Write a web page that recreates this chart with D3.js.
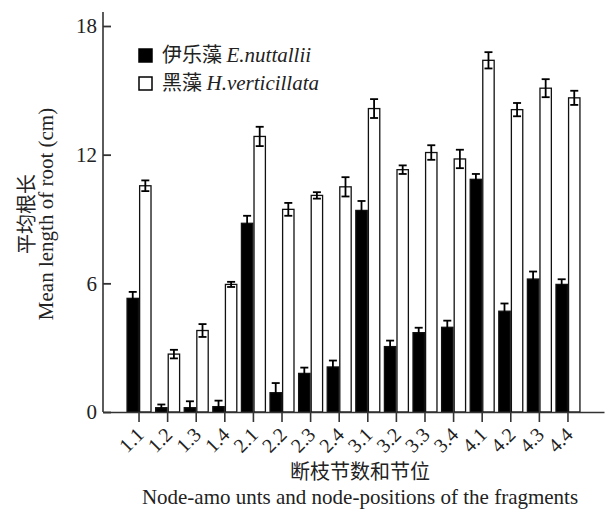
<!DOCTYPE html>
<html lang="zh">
<head>
<meta charset="UTF-8">
<title>Mean length of root</title>
<script src="https://d3js.org/d3.v7.min.js"></script>
<style>
  html, body { margin: 0; padding: 0; background: #fff; }
  svg { display: block; }
</style>
</head>
<body>
<svg id="svg" width="605" height="511"></svg>
<script>
// node-amounts . node-position
const categories = ["1.1","1.2","1.3","1.4","2.1","2.2","2.3","2.4","3.1","3.2","3.3","3.4","4.1","4.2","4.3","4.4"];
// 伊乐藻 E.nuttallii (black)
const nuttMean = [5.3,0.2,0.2,0.25,8.8,0.9,1.8,2.1,9.4,3.05,3.7,3.95,10.85,4.7,6.2,5.95];
const nuttErr  = [0.3,0.15,0.3,0.28,0.35,0.45,0.27,0.3,0.44,0.28,0.23,0.31,0.25,0.36,0.35,0.24];
// 黑藻 H.verticillata (white)
const vertMean = [10.55,2.7,3.8,5.95,12.85,9.45,10.1,10.5,14.15,11.3,12.1,11.8,16.4,14.1,15.1,14.65];
const vertErr  = [0.25,0.2,0.3,0.12,0.45,0.3,0.15,0.45,0.44,0.2,0.34,0.43,0.38,0.31,0.42,0.33];
const yTicks = [0, 6, 12, 18];

const serif = "'Liberation Serif','Times New Roman',serif";
const cjk = "'Noto Sans CJK SC','Noto Sans CJK JP',sans-serif";

const svg = d3.select("#svg");

const x = d3.scaleBand()
  .domain(categories)
  .range([103, 604])
  .paddingInner(0.12)
  .paddingOuter(0.82);

const sub = d3.scaleBand()
  .domain(["nutt", "vert"])
  .range([0, x.bandwidth()]);

const y = d3.scaleLinear().domain([0, 18]).range([412, 26]);

const rows = categories.map((c, i) => ({
  cat: c,
  vals: [
    { key: "nutt", mean: nuttMean[i], err: nuttErr[i] },
    { key: "vert", mean: vertMean[i], err: vertErr[i] }
  ]
}));

// bars
const groups = svg.append("g")
  .selectAll("g")
  .data(rows)
  .join("g")
  .attr("transform", d => `translate(${x(d.cat)},0)`);

groups.selectAll("rect")
  .data(d => d.vals)
  .join("rect")
  .attr("x", d => sub(d.key) + 0.6)
  .attr("width", sub.bandwidth() - 1.2)
  .attr("y", d => y(d.mean))
  .attr("height", d => y(0) - y(d.mean))
  .attr("fill", d => d.key === "nutt" ? "#000" : "#fff")
  .attr("stroke", "#111")
  .attr("stroke-width", 1.3);

// error bars
const eb = groups.selectAll("g.err")
  .data(d => d.vals)
  .join("g")
  .attr("class", "err")
  .attr("stroke", "#000")
  .attr("stroke-width", 1.8)
  .attr("transform", d => `translate(${sub(d.key) + sub.bandwidth() / 2},0)`);

eb.append("line")
  .attr("y1", d => y(d.mean + d.err))
  .attr("y2", d => y(Math.max(0, d.mean - d.err)));
eb.append("line")
  .attr("x1", -4).attr("x2", 4)
  .attr("y1", d => y(d.mean + d.err))
  .attr("y2", d => y(d.mean + d.err));
eb.append("line")
  .attr("x1", -4).attr("x2", 4)
  .attr("y1", d => y(Math.max(0, d.mean - d.err)))
  .attr("y2", d => y(Math.max(0, d.mean - d.err)));

// x axis
const xAxis = svg.append("g")
  .attr("transform", `translate(0,${y(0)})`)
  .call(d3.axisBottom(x).tickSize(10).tickSizeOuter(0).tickFormat(""));
xAxis.select(".domain").attr("stroke", "#333").attr("stroke-width", 1.6);
xAxis.selectAll(".tick line").attr("stroke", "#333").attr("stroke-width", 1.6);

svg.append("g")
  .selectAll("text")
  .data(categories)
  .join("text")
  .attr("transform", d => `translate(${x(d) + x.bandwidth() / 2 + 6},${y(0) + 24}) rotate(-45)`)
  .attr("text-anchor", "end")
  .attr("font-family", serif)
  .attr("font-size", 20)
  .attr("fill", "#222")
  .text(d => d);

// y axis
const yAxis = svg.append("g")
  .attr("transform", "translate(103,0)")
  .call(d3.axisLeft(y).tickValues(yTicks).tickSize(-8).tickPadding(6));
yAxis.select(".domain").remove();
yAxis.selectAll(".tick line").attr("stroke", "#333").attr("stroke-width", 1.8);
yAxis.selectAll(".tick text")
  .attr("font-family", serif)
  .attr("font-size", 21)
  .attr("fill", "#222");
svg.append("line")
  .attr("x1", 103).attr("x2", 103)
  .attr("y1", y(0)).attr("y2", 12)
  .attr("stroke", "#333").attr("stroke-width", 1.6);

// axis titles
svg.append("text")
  .attr("transform", "translate(25,214) rotate(-90)")
  .attr("text-anchor", "middle")
  .attr("dominant-baseline", "central")
  .attr("font-family", cjk)
  .attr("font-size", 20)
  .attr("fill", "#222")
  .text("平均根长");
svg.append("text")
  .attr("transform", "translate(46,214) rotate(-90)")
  .attr("text-anchor", "middle")
  .attr("dominant-baseline", "central")
  .attr("font-family", serif)
  .attr("font-size", 21)
  .attr("fill", "#222")
  .text("Mean length of root (cm)");

svg.append("text")
  .attr("x", 360).attr("y", 479)
  .attr("text-anchor", "middle")
  .attr("font-family", cjk)
  .attr("font-size", 20)
  .attr("fill", "#222")
  .text("断枝节数和节位");
svg.append("text")
  .attr("x", 360).attr("y", 504)
  .attr("text-anchor", "middle")
  .attr("font-family", serif)
  .attr("font-size", 21)
  .attr("fill", "#222")
  .text("Node-amo unts and node-positions of the fragments");

// legend
const legendItems = [
  { cn: "伊乐藻", en: "E.nuttallii", fill: "#000" },
  { cn: "黑藻", en: "H.verticillata", fill: "#fff" }
];
const lg = svg.append("g")
  .selectAll("g")
  .data(legendItems)
  .join("g")
  .attr("transform", (d, i) => `translate(139,${49 + i * 28})`);
lg.append("rect")
  .attr("width", 13).attr("height", 13)
  .attr("fill", d => d.fill)
  .attr("stroke", "#000").attr("stroke-width", 1.5);
const lt = lg.append("text")
  .attr("x", 23).attr("y", 13)
  .attr("font-size", 20)
  .attr("fill", "#222");
lt.append("tspan").attr("font-family", cjk).text(d => d.cn + " ");
lt.append("tspan").attr("font-family", serif).attr("font-style", "italic").attr("font-size", 21).text(d => d.en);
</script>
</body>
</html>
